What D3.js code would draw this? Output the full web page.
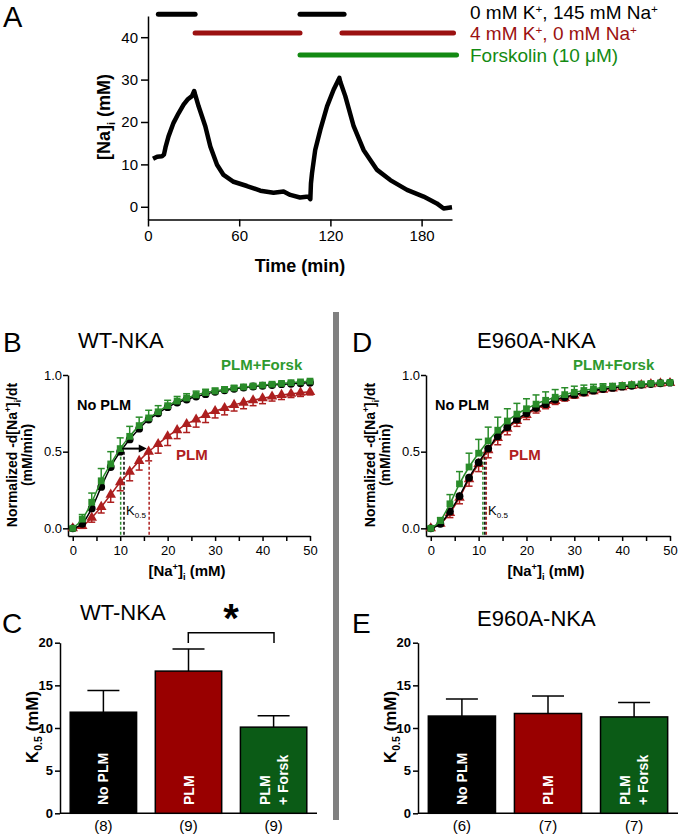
<!DOCTYPE html>
<html>
<head>
<meta charset="utf-8">
<script src="https://cdn.jsdelivr.net/npm/d3@7"></script>
<style>
  body { margin: 0; background: #fff; }
  svg { font-family: "Liberation Sans", Arial, sans-serif; }
</style>
</head>
<body>
<svg id="fig" width="680" height="840"></svg>
<script>
// ---------- data ----------
// Panel A: [Na]i trace (time in min, Na in mM)
const timeA = [3.3, 6, 9.2, 10.5, 11.5, 13.5, 16.8, 20, 23.4, 26, 28.9, 30.4, 31, 33.3, 37.7, 41, 45.4, 49.7, 56.3,
  65.1, 73.9, 82.6, 89.2, 93.6, 100, 105.6, 106.8, 107.2, 107.9, 110, 113.4, 117.8, 122.1, 125.9, 126.5, 129.8,
  135.3, 141.8, 150.7, 159.4, 170.4, 181.3, 190, 194.5, 200];
const naA = [11.3, 11.8, 11.9, 12.3, 14, 16.6, 19.8, 22, 24.1, 25.3, 26.1, 27.3, 26.5, 23.7, 19, 14.2, 9.9, 7.5, 5.9,
  4.9, 3.8, 3.3, 3.6, 2.8, 2.2, 2.4, 1.8, 5.5, 7.9, 13.4, 18.2, 23.7, 27.6, 30.4, 29.5, 26.1,
  19, 13.4, 8.7, 6.3, 4, 2.4, 0.8, -0.4, -0.1];
const xTicksA = [0, 60, 120, 180];
const yTicksA = [0, 10, 20, 30, 40];

// Panel A: solution protocol bars
const protoLabels = [
  [['0 mM K', ''], ['+', 'sup'], [', 145 mM Na', ''], ['+', 'sup']],
  [['4 mM K', ''], ['+', 'sup'], [', 0 mM Na', ''], ['+', 'sup']],
  [['Forskolin (10 \u03bcM)', '']]
];
const protoColors = ['#000000', '#9b1111', '#138a13'];
const protoLevels = [45.4, 41, 35.8];
const protoSegments = [[[6.8, 31], [100, 129]], [[31, 100], [127.6, 201]], [[100, 203]]];

// Panels B and D: normalized rate vs [Na+]i
const naConc = [0, 2, 4, 6, 8, 10, 12, 14, 16, 18, 20, 22, 24, 26, 28, 30, 32, 34, 36, 38, 40, 42, 44, 46, 48, 50];
const wtNoPlm = [0, 0.03, 0.13, 0.27, 0.40, 0.50, 0.58, 0.65, 0.71, 0.75, 0.79, 0.82, 0.84, 0.86, 0.875, 0.89, 0.90,
  0.91, 0.918, 0.925, 0.93, 0.935, 0.94, 0.943, 0.946, 0.95];
const wtPlm = [0, 0.015, 0.07, 0.14, 0.22, 0.30, 0.37, 0.44, 0.50, 0.55, 0.60, 0.64, 0.68, 0.71, 0.74, 0.765, 0.785,
  0.805, 0.82, 0.835, 0.848, 0.86, 0.87, 0.878, 0.885, 0.89];
const wtPlmErr = [0, 0.015, 0.03, 0.04, 0.05, 0.055, 0.06, 0.06, 0.06, 0.06, 0.06, 0.055, 0.055, 0.05, 0.05, 0.045,
  0.045, 0.04, 0.04, 0.035, 0.035, 0.03, 0.03, 0.025, 0.025, 0.02];
const wtForsk = [0, 0.06, 0.17, 0.31, 0.42, 0.52, 0.60, 0.67, 0.72, 0.76, 0.80, 0.83, 0.85, 0.87, 0.885, 0.895, 0.905,
  0.915, 0.922, 0.928, 0.934, 0.94, 0.945, 0.95, 0.955, 0.96];
const wtForskErr = [0, 0.03, 0.06, 0.08, 0.08, 0.07, 0.065, 0.055, 0.05, 0.04, 0.035, 0.03, 0.028, 0.025, 0.022, 0.02,
  0.018, 0.016, 0.015, 0.013, 0.012, 0.011, 0.01, 0.009, 0.008, 0.008];
const k05Wt = [10.8, 16.1, 10.1];      // No PLM, PLM, PLM+Forsk
const arrowWt = [10.4, 15.6];

const e9NoPlm = [0, 0.03, 0.11, 0.21, 0.33, 0.43, 0.52, 0.60, 0.66, 0.71, 0.75, 0.786, 0.81, 0.84, 0.855, 0.872,
  0.886, 0.898, 0.908, 0.916, 0.924, 0.93, 0.936, 0.941, 0.946, 0.95];
const e9Plm = [0, 0.03, 0.10, 0.20, 0.32, 0.42, 0.51, 0.59, 0.65, 0.70, 0.74, 0.78, 0.805, 0.83, 0.85, 0.867, 0.882,
  0.894, 0.904, 0.913, 0.921, 0.928, 0.934, 0.94, 0.945, 0.948];
const e9PlmErr = [0, 0.015, 0.03, 0.04, 0.045, 0.05, 0.05, 0.045, 0.04, 0.035, 0.03, 0.028, 0.025, 0.022, 0.02, 0.018,
  0.016, 0.014, 0.012, 0.011, 0.01, 0.009, 0.008, 0.007, 0.006, 0.005];
const e9Forsk = [0, 0.05, 0.16, 0.29, 0.40, 0.49, 0.57, 0.64, 0.70, 0.745, 0.78, 0.81, 0.835, 0.855, 0.872, 0.887,
  0.899, 0.909, 0.918, 0.925, 0.931, 0.937, 0.941, 0.945, 0.948, 0.951];
const e9ForskErr = [0, 0.02, 0.06, 0.08, 0.09, 0.09, 0.09, 0.085, 0.08, 0.07, 0.065, 0.06, 0.055, 0.05, 0.045, 0.04,
  0.035, 0.03, 0.025, 0.02, 0.018, 0.015, 0.012, 0.01, 0.008, 0.006];
const k05E9 = [11.3, 11.6, 10.9];

// Panels C and E: K0.5 bars
const groups = ['No PLM', 'PLM', 'PLM + Forsk'];
const kWt = [11.85, 16.67, 10.1];
const kWtErr = [2.55, 2.58, 1.35];
const nWt = ['(8)', '(9)', '(9)'];
const kE9 = [11.4, 11.7, 11.3];
const kE9Err = [2.0, 2.05, 1.7];
const nE9 = ['(6)', '(7)', '(7)'];
const kTicks = [0, 5, 10, 15, 20];

// ---------- style ----------
const FONT = '"Liberation Sans", Arial, sans-serif';
const black = '#000000';
const redLine = '#ad1f1f';
const greenLine = '#2a8c2a';
const redText = '#b02020';
const greenText = '#2e9a2e';
const barColors = ['#000000', '#990000', '#0b5b16'];

const svg = d3.select('#fig');

// text with sub/superscript parts
function rich(text, parts, fs, supRise = 0.4) {
  let off = 0;
  parts.forEach(([s, m]) => {
    const target = m === 'sup' ? -supRise * fs : m === 'sub' ? 0.25 * fs : 0;
    const ts = text.append('tspan').attr('dy', target - off).text(s);
    if (m) ts.attr('font-size', fs * 0.62);
    off = target;
  });
  return text;
}

function styleAxis(g, fs, bold) {
  g.attr('font-family', FONT);
  g.select('.domain').attr('stroke-width', 1.5);
  g.selectAll('.tick line').attr('stroke-width', 1.5);
  g.selectAll('.tick text').attr('font-size', fs).attr('fill', '#000')
    .attr('font-weight', bold ? 'bold' : 'normal');
}

function panelLetter(x, y, s, fs) {
  svg.append('text').attr('x', x).attr('y', y).attr('font-size', fs).text(s);
}

// ---------- Panel A ----------
const xA = d3.scaleLinear().domain([0, 200]).range([148, 452]);
const yA = d3.scaleLinear().domain([-3, 45]).range([219.5, 16]);

panelLetter(3, 27, 'A', 29);

svg.append('g').attr('transform', 'translate(0,219.5)')
  .call(d3.axisBottom(xA).tickValues(xTicksA).tickSize(7).tickSizeOuter(0).tickPadding(4))
  .call(g => styleAxis(g, 15, false));
svg.append('g').attr('transform', 'translate(148,0)')
  .call(d3.axisLeft(yA).tickValues(yTicksA).tickSize(7).tickSizeOuter(0).tickPadding(3))
  .call(g => styleAxis(g, 15, false));

svg.append('path')
  .datum(timeA.map((t, i) => [t, naA[i]]))
  .attr('d', d3.line().x(d => xA(d[0])).y(d => yA(d[1])))
  .attr('fill', 'none').attr('stroke', black).attr('stroke-width', 4.5)
  .attr('stroke-linejoin', 'round');

protoSegments.forEach((segs, i) => {
  segs.forEach(s => {
    svg.append('line')
      .attr('x1', xA(s[0])).attr('x2', xA(s[1]))
      .attr('y1', yA(protoLevels[i])).attr('y2', yA(protoLevels[i]))
      .attr('stroke', protoColors[i]).attr('stroke-width', 5).attr('stroke-linecap', 'round');
  });
  const t = svg.append('text').attr('x', 470).attr('y', [19, 40, 62][i])
    .attr('font-size', 19).attr('fill', protoColors[i]);
  rich(t, protoLabels[i], 19, 0.3);
});

svg.append('text').attr('x', 300).attr('y', 272).attr('text-anchor', 'middle')
  .attr('font-size', 18).attr('font-weight', 'bold').text('Time (min)');
rich(svg.append('text').attr('transform', 'translate(110,117) rotate(-90)')
  .attr('text-anchor', 'middle').attr('font-size', 18).attr('font-weight', 'bold'),
  [['[Na]', ''], ['i', 'sub'], [' (mM)', '']], 18);

// ---------- Panels B and D ----------
function kineticsPanel(opt) {
  const x = d3.scaleLinear().domain([-1, 50]).range(opt.xRange);
  const y = d3.scaleLinear().domain([-0.05, 1]).range([536, 375]);

  svg.append('g').attr('transform', 'translate(0,536)')
    .call(d3.axisBottom(x).tickValues(d3.range(0, 51, 5)).tickSize(5).tickSizeOuter(0).tickPadding(5)
      .tickFormat(d => d % 10 === 0 ? d : ''))
    .call(g => styleAxis(g, 13, false));
  svg.append('g').attr('transform', `translate(${opt.xRange[0]},0)`)
    .call(d3.axisLeft(y).tickValues([0, 0.5, 1]).tickFormat(d3.format('.1f')).tickSize(5).tickSizeOuter(0).tickPadding(1))
    .call(g => styleAxis(g, 13, false));

  // K0.5 dashed drop lines
  const dashColors = [black, redLine, greenLine];
  [1, 2, 0].forEach(i => {
    svg.append('line')
      .attr('x1', x(opt.k05[i])).attr('x2', x(opt.k05[i]))
      .attr('y1', y(0.5)).attr('y2', y(-0.05))
      .attr('stroke', dashColors[i]).attr('stroke-width', 1.5).attr('stroke-dasharray', '3,2');
  });

  const line = d3.line().x(d => x(d[0])).y(d => y(d[1])).curve(d3.curveMonotoneX);
  const sets = [
    { v: opt.plm, e: opt.plmErr, dir: -1, color: redLine, sym: d3.symbolTriangle, size: 48 },
    { v: opt.noPlm, e: null, dir: 0, color: black, sym: d3.symbolCircle, size: 48 },
    { v: opt.forsk, e: opt.forskErr, dir: 1, color: greenLine, sym: d3.symbolSquare, size: 46 }
  ];
  sets.forEach(s => {
    const pts = naConc.map((c, i) => [c, s.v[i], s.e ? s.e[i] : 0]);
    svg.append('path').datum(pts).attr('d', line)
      .attr('fill', 'none').attr('stroke', s.color).attr('stroke-width', 1.5);
    if (s.e) {
      pts.forEach(p => {
        if (p[2] <= 0) return;
        const yEnd = y(p[1] + s.dir * p[2]);
        svg.append('line').attr('x1', x(p[0])).attr('x2', x(p[0]))
          .attr('y1', y(p[1])).attr('y2', yEnd).attr('stroke', s.color).attr('stroke-width', 1.5);
        svg.append('line').attr('x1', x(p[0]) - 3.5).attr('x2', x(p[0]) + 3.5)
          .attr('y1', yEnd).attr('y2', yEnd).attr('stroke', s.color).attr('stroke-width', 1.5);
      });
    }
    svg.append('g').selectAll('path').data(pts).join('path')
      .attr('transform', d => `translate(${x(d[0])},${y(d[1])})`)
      .attr('d', d3.symbol().type(s.sym).size(s.size))
      .attr('fill', s.color);
  });

  if (opt.arrow) {
    svg.append('line')
      .attr('x1', x(opt.arrow[0])).attr('x2', x(opt.arrow[1]) - 6)
      .attr('y1', y(0.52)).attr('y2', y(0.52))
      .attr('stroke', black).attr('stroke-width', 2);
    const ax = x(opt.arrow[1]), ay = y(0.52);
    svg.append('path').attr('d', `M${ax},${ay} L${ax - 8},${ay - 4} L${ax - 8},${ay + 4} Z`).attr('fill', black);
  }

  rich(svg.append('text').attr('x', opt.kLabelX).attr('y', 515).attr('font-size', 13),
    [['K', ''], ['0.5', 'sub']], 13);

  svg.append('text').attr('x', opt.xRange[0] + 9).attr('y', 410).attr('font-size', 14.5)
    .attr('font-weight', 'bold').attr('fill', black).text('No PLM');
  svg.append('text').attr('x', opt.forskX).attr('y', 370).attr('font-size', 15)
    .attr('font-weight', 'bold').attr('fill', greenText).text('PLM+Forsk');
  svg.append('text').attr('x', opt.plmX).attr('y', 460).attr('font-size', 15)
    .attr('font-weight', 'bold').attr('fill', redText).text('PLM');

  svg.append('text').attr('x', opt.titleX).attr('y', 348).attr('font-size', 22).text(opt.title);

  rich(svg.append('text').attr('x', (opt.xRange[0] + opt.xRange[1]) / 2 - 2).attr('y', 576)
    .attr('text-anchor', 'middle').attr('font-size', 15).attr('font-weight', 'bold'),
    [['[Na', ''], ['+', 'sup'], [']', ''], ['i', 'sub'], [' (mM)', '']], 15);

  const ly = opt.xRange[0] - 51;
  rich(svg.append('text').attr('transform', `translate(${ly},455) rotate(-90)`)
    .attr('text-anchor', 'middle').attr('font-size', 14).attr('font-weight', 'bold'),
    [['Normalized -d[Na', ''], ['+', 'sup'], [']', ''], ['i', 'sub'], ['/dt', '']], 14);
  svg.append('text').attr('transform', `translate(${ly + 15},455) rotate(-90)`)
    .attr('text-anchor', 'middle').attr('font-size', 14).attr('font-weight', 'bold').text('(mM/min)');
}

panelLetter(3, 352, 'B', 28);
kineticsPanel({
  xRange: [68, 310], noPlm: wtNoPlm, plm: wtPlm, plmErr: wtPlmErr, forsk: wtForsk, forskErr: wtForskErr,
  k05: k05Wt, arrow: arrowWt, kLabelX: 126, forskX: 221, plmX: 176, titleX: 78, title: 'WT-NKA'
});

panelLetter(352, 352, 'D', 28);
kineticsPanel({
  xRange: [426, 670], noPlm: e9NoPlm, plm: e9Plm, plmErr: e9PlmErr, forsk: e9Forsk, forskErr: e9ForskErr,
  k05: k05E9, arrow: null, kLabelX: 488, forskX: 573, plmX: 509, titleX: 477, title: 'E960A-NKA'
});

// ---------- Panels C and E ----------
function barPanel(opt) {
  const x = d3.scaleBand().domain(groups).range(opt.xRange).paddingInner(0.22).paddingOuter(0.12);
  const y = d3.scaleLinear().domain([0, 20]).range([813.3, 642.7]);

  svg.append('g').attr('transform', `translate(${opt.xRange[0]},0)`)
    .call(d3.axisLeft(y).tickValues(kTicks).tickSize(5).tickSizeOuter(0).tickPadding(2))
    .call(g => styleAxis(g, 13, true));
  svg.append('line').attr('x1', opt.xRange[0]).attr('x2', opt.xRange[1])
    .attr('y1', y(0)).attr('y2', y(0)).attr('stroke', black).attr('stroke-width', 1.5);

  groups.forEach((gname, i) => {
    const cx = x(gname) + x.bandwidth() / 2;
    svg.append('line').attr('x1', cx).attr('x2', cx)
      .attr('y1', y(opt.k[i])).attr('y2', y(opt.k[i] + opt.err[i]))
      .attr('stroke', black).attr('stroke-width', 1.5);
    svg.append('line').attr('x1', cx - 16).attr('x2', cx + 16)
      .attr('y1', y(opt.k[i] + opt.err[i])).attr('y2', y(opt.k[i] + opt.err[i]))
      .attr('stroke', black).attr('stroke-width', 1.5);
    svg.append('rect').attr('x', x(gname)).attr('width', x.bandwidth())
      .attr('y', y(opt.k[i])).attr('height', y(0) - y(opt.k[i]))
      .attr('fill', barColors[i]).attr('stroke', black).attr('stroke-width', 1.5);

    const lines = gname === 'PLM + Forsk' ? ['PLM', '+ Forsk'] : [gname];
    const offs = lines.length === 2 ? [-4, 14] : [5];
    lines.forEach((l, j) => {
      svg.append('text').attr('transform', `translate(${cx + offs[j]},805) rotate(-90)`)
        .attr('font-size', 14).attr('font-weight', 'bold').attr('fill', '#fff').text(l);
    });
    svg.append('text').attr('x', cx).attr('y', 831).attr('text-anchor', 'middle')
      .attr('font-size', 15).text(opt.n[i]);
  });

  rich(svg.append('text').attr('transform', `translate(${opt.xRange[0] - 22},727) rotate(-90)`)
    .attr('text-anchor', 'middle').attr('font-size', 17).attr('font-weight', 'bold'),
    [['K', ''], ['0.5', 'sub'], [' (mM)', '']], 17);

  svg.append('text').attr('x', opt.titleX).attr('y', opt.titleY).attr('font-size', 22).text(opt.title);
}

panelLetter(2, 633, 'C', 28);
barPanel({ xRange: [60, 317], k: kWt, err: kWtErr, n: nWt, titleX: 80, titleY: 620, title: 'WT-NKA' });
// significance bracket
svg.append('path').attr('d', 'M188.3,643 V632.7 H274 V643')
  .attr('fill', 'none').attr('stroke', black).attr('stroke-width', 1.5);
svg.append('text').attr('x', 231).attr('y', 632).attr('text-anchor', 'middle')
  .attr('font-size', 40).attr('font-weight', 'bold').text('*');

panelLetter(352, 633, 'E', 28);
barPanel({ xRange: [418, 678], k: kE9, err: kE9Err, n: nE9, titleX: 477, titleY: 626, title: 'E960A-NKA' });

// grey divider
svg.append('rect').attr('x', 333).attr('y', 312).attr('width', 6).attr('height', 508).attr('fill', '#808080');
</script>
</body>
</html>
